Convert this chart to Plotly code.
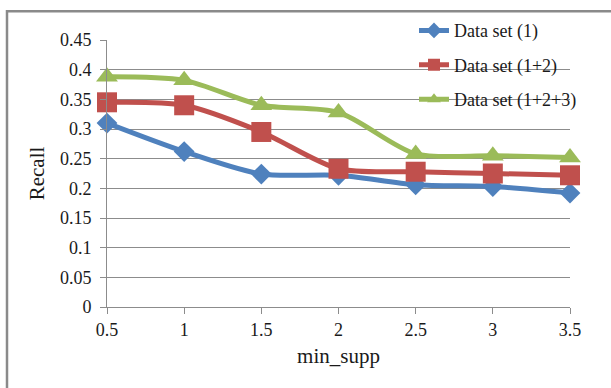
import plotly.graph_objects as go

# Recall versus minimum support for three cumulative data sets
min_supp = [0.5, 1, 1.5, 2, 2.5, 3, 3.5]
recall_1 = [0.310, 0.262, 0.224, 0.222, 0.206, 0.203, 0.192]
recall_12 = [0.345, 0.340, 0.295, 0.233, 0.228, 0.225, 0.222]
recall_123 = [0.388, 0.382, 0.340, 0.328, 0.258, 0.255, 0.252]
y_ticks = [0, 0.05, 0.1, 0.15, 0.2, 0.25, 0.3, 0.35, 0.4, 0.45]

FONT = "Liberation Serif, Times New Roman, serif"
GRID = "#8c8c8c"

series = [
    ("Data set (1)", recall_1, "#4F81BD", "diamond", 16),
    ("Data set (1+2)", recall_12, "#C0504D", "square", 20),
    ("Data set (1+2+3)", recall_123, "#9BBB59", "triangle-up", 19),
]

fig = go.Figure()
for i, (name, vals, color, symbol, size) in enumerate(series):
    fig.add_trace(go.Scatter(
        x=min_supp, y=vals, name=name, mode="lines+markers",
        line=dict(color=color, width=5, shape="spline", smoothing=0.8),
        marker=dict(symbol=symbol, size=size, color=color),
        cliponaxis=False, legendgroup=f"g{i}",
    ))

# outer frame around the chart area
fig.add_shape(type="rect", xref="paper", yref="paper",
              x0=(7 - 107) / 463, x1=(640 - 107) / 463,
              y0=(307 - 420) / 269, y1=(307 - 9) / 269,
              line=dict(color="#8a8a8a", width=2.5), layer="below")

fig.update_layout(
    width=611, height=388,
    margin=dict(l=107, r=41, t=38, b=81),
    paper_bgcolor="white", plot_bgcolor="white",
    font=dict(family=FONT, color="#1a1a1a", size=18),
    showlegend=True,
    legend=dict(x=(414 - 107) / 463, y=(307 - 10) / 269,
                xanchor="left", yanchor="top",
                bgcolor="rgba(0,0,0,0)", borderwidth=0,
                font=dict(family=FONT, size=18, color="#1a1a1a"),
                tracegroupgap=8, itemsizing="constant"),
    xaxis=dict(
        range=[0.5, 3.5], tickvals=min_supp,
        ticktext=[str(v) for v in min_supp],
        showgrid=False, zeroline=False,
        showline=True, linecolor=GRID, linewidth=1,
        ticks="outside", ticklen=6, tickcolor=GRID,
        tickfont=dict(size=18),
        title=dict(text="min_supp", font=dict(size=21), standoff=9),
    ),
    yaxis=dict(
        range=[0, 0.45], tickvals=y_ticks,
        ticktext=[f"{v:g}" for v in y_ticks],
        showgrid=True, gridcolor=GRID, gridwidth=1, zeroline=False,
        showline=True, linecolor=GRID, linewidth=1,
        ticks="outside", ticklen=6, tickcolor=GRID,
        tickfont=dict(size=18), ticklabelstandoff=5,
        title=dict(text="Recall", font=dict(size=21), standoff=9),
    ),
)

fig.write_html("out.html")
